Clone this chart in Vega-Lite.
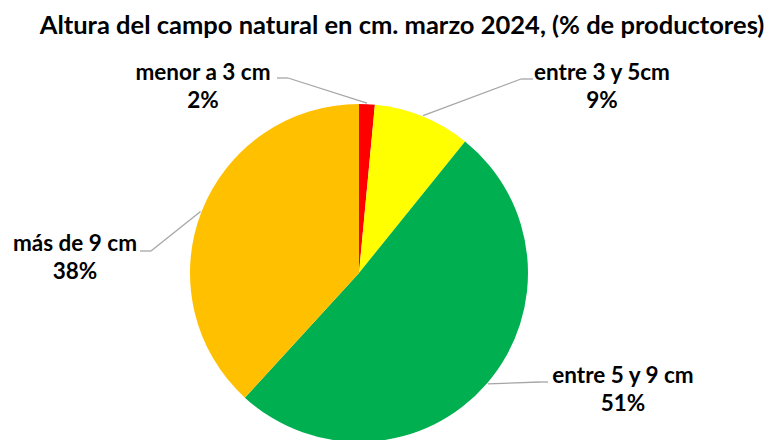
{
  "$schema": "https://vega.github.io/schema/vega-lite/v6.json",
  "width": 718,
  "height": 334,
  "autosize": {"type": "none"},
  "padding": {"left": 0, "top": 106, "right": 53, "bottom": 0},
  "background": "white",
  "config": {"view": {"stroke": null}, "font": "Lato"},
  "title": {
    "text": "Altura del campo natural en cm. marzo 2024, (% de productores)",
    "font": "Lato",
    "fontSize": 25.5,
    "fontWeight": "bold",
    "color": "#000000",
    "anchor": "middle",
    "frame": "group",
    "dx": 43,
    "offset": 23
  },
  "data": {
    "values": [
      {"cat": "menor a 3 cm", "value": 1.5, "pct": "2%", "orden": 1},
      {"cat": "entre 3 y 5cm", "value": 9.3, "pct": "9%", "orden": 2},
      {"cat": "entre 5 y 9 cm", "value": 51.0, "pct": "51%", "orden": 3},
      {"cat": "más de 9 cm", "value": 38.2, "pct": "38%", "orden": 4}
    ]
  },
  "transform": [
    {"window": [{"op": "sum", "field": "value", "as": "cum"}], "sort": [{"field": "orden"}], "frame": [null, 0]},
    {"calculate": "(datum.cum - datum.value/2)/100*2*PI", "as": "mid"},
    {"calculate": "170*sin(datum.mid)", "as": "sx"},
    {"calculate": "170*cos(datum.mid)", "as": "sy"},
    {"calculate": "datum.orden==1 ? -71 : datum.orden==2 ? 162 : datum.orden==3 ? 181 : -208", "as": "ex"},
    {"calculate": "datum.orden==1 ? 195 : datum.orden==2 ? 194 : datum.orden==3 ? -109 : 22", "as": "ey"},
    {"calculate": "datum.orden==1 ? -82 : datum.orden==2 ? 174 : datum.orden==3 ? 189 : -219", "as": "fx"},
    {"calculate": "datum.orden==1 ? -156 : datum.orden==2 ? 243 : datum.orden==3 ? 264 : -284", "as": "tx"},
    {"calculate": "datum.orden==1 ? 200 : datum.orden==2 ? 200 : datum.orden==3 ? -103 : 29", "as": "ty"},
    {"calculate": "datum.cat + '\\n' + datum.pct", "as": "texto"}
  ],
  "layer": [
    {
      "mark": {"type": "arc", "outerRadius": 169},
      "encoding": {
        "theta": {"field": "value", "type": "quantitative", "stack": true},
        "order": {"field": "orden", "type": "quantitative"},
        "color": {
          "field": "cat",
          "type": "nominal",
          "scale": {
            "domain": ["menor a 3 cm", "entre 3 y 5cm", "entre 5 y 9 cm", "más de 9 cm"],
            "range": ["#FF0000", "#FFFF00", "#00B050", "#FFC000"]
          },
          "legend": null
        }
      }
    },
    {
      "mark": {"type": "rule", "color": "#A6A6A6", "strokeWidth": 1.3},
      "encoding": {
        "x": {"field": "sx", "type": "quantitative", "scale": {"domain": [-359, 359], "nice": false, "zero": false}, "axis": null},
        "y": {"field": "sy", "type": "quantitative", "scale": {"domain": [-167, 167], "nice": false, "zero": false}, "axis": null},
        "x2": {"field": "ex"},
        "y2": {"field": "ey"}
      }
    },
    {
      "mark": {"type": "rule", "color": "#A6A6A6", "strokeWidth": 1.3},
      "encoding": {
        "x": {"field": "ex", "type": "quantitative"},
        "y": {"field": "ey", "type": "quantitative"},
        "x2": {"field": "fx"}
      }
    },
    {
      "mark": {"type": "text", "lineBreak": "\n", "fontSize": 22.5, "fontWeight": "bold", "font": "Lato", "align": "center", "baseline": "middle", "lineHeight": 28, "color": "#000000"},
      "encoding": {
        "x": {"field": "tx", "type": "quantitative"},
        "y": {"field": "ty", "type": "quantitative"},
        "text": {"field": "texto"}
      }
    }
  ]
}
